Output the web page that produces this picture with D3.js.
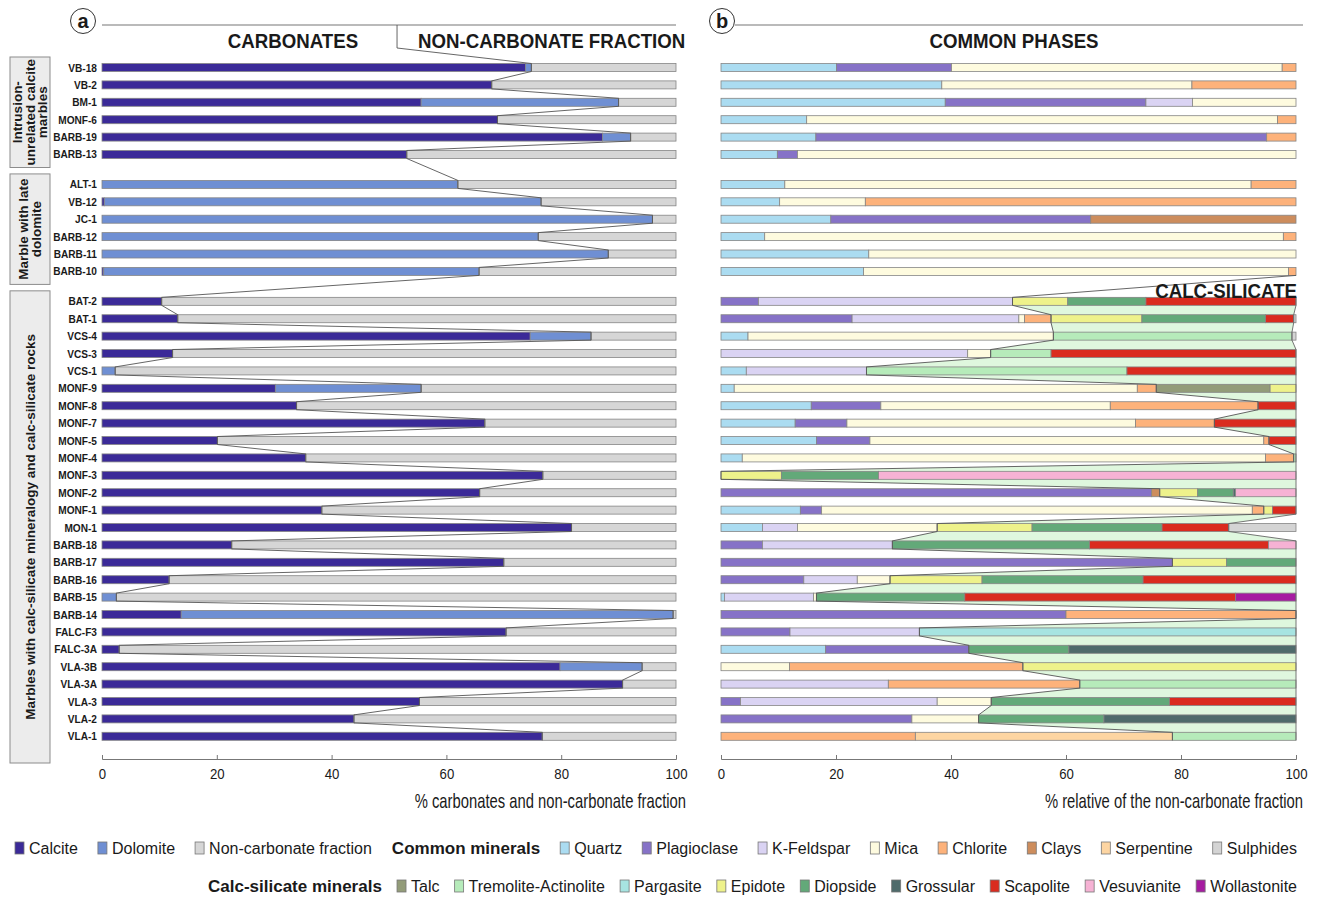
<!DOCTYPE html>
<html lang="en">
<head>
<meta charset="utf-8">
<title>Carbonates and non-carbonate fraction</title>
<script src="https://cdn.jsdelivr.net/npm/d3@7"></script>
<style>
body { margin: 0; background: #fff; }
svg text { font-family: "Liberation Sans Narrow", "Liberation Sans", Arial, sans-serif; fill: #1a1a1a; }
</style>
</head>
<body>
<script>

// samples from top to bottom
var samples = ["VB-18","VB-2","BM-1","MONF-6","BARB-19","BARB-13",
	"ALT-1","VB-12","JC-1","BARB-12","BARB-11","BARB-10",
	"BAT-2","BAT-1","VCS-4","VCS-3","VCS-1","MONF-9","MONF-8","MONF-7","MONF-5","MONF-4","MONF-3","MONF-2","MONF-1",
	"MON-1","BARB-18","BARB-17","BARB-16","BARB-15","BARB-14","FALC-F3","FALC-3A","VLA-3B","VLA-3A","VLA-3","VLA-2","VLA-1"];

var groupNames = [["Intrusion-","unrelated calcite","marbles"], ["Marble with late","dolomite"], ["Marbles with calc-silicate mineralogy and calc-silicate rocks"]];
var groupSizes = [6, 6, 26];

// panel a : % of the rock
var calcite = [73.8,67.9,55.6,68.9,87.2,53.1, 0,0.4,0,0,0,0.3,
	10.4,13.2,74.6,12.3,0,30.2,33.9,66.7,20.1,35.5,76.8,65.8,38.3,
	81.8,22.6,70.0,11.7,0,13.8,70.4,3.0,79.8,90.7,55.3,43.9,76.7];
var dolomite = [1.0,0,34.4,0,4.9,0, 62.0,76.1,95.9,76.0,88.2,65.4,
	0,0,10.6,0,2.3,25.4,0,0,0,0,0,0,0,
	0,0,0,0,2.5,85.7,0,0,14.3,0,0,0,0];

// panel b : % of the non-carbonate fraction
var quartz = [20.1,38.4,39.0,14.9,16.5,9.8, 11.1,10.2,19.1,7.6,25.7,24.8,
	0,0,4.7,0,4.4,2.3,15.7,12.9,16.6,3.7,0,0,13.8,
	7.2,0,0,0,0.6,0,0,18.2,0,0,0,0,0];
var plagioclase = [20.0,0,34.9,0,78.4,3.5, 0,0,45.2,0,0,0,
	6.5,22.8,0,0,0,0,12.1,9.0,9.3,0,0,74.9,3.7,
	0,7.2,78.5,14.4,0,60.0,12.0,24.9,0,0,3.4,33.2,0];
var kfeldspar = [0,0,8.1,0,0,0, 0,0,0,0,0,0,
	44.2,29.0,0,42.9,20.9,0,0,0,0,0,0,0,0,
	6.1,22.6,0,9.3,15.5,0,22.5,0,0,29.1,34.2,0,0];
var mica = [57.5,43.5,18.0,81.9,0,86.7, 81.1,14.9,0,90.2,74.3,73.9,
	0,1.0,53.1,4.0,0,70.1,39.9,50.2,68.5,91.0,0,0,74.9,
	24.3,0,0,5.7,0.5,0,0,0,11.9,0,9.4,11.6,0];
var chlorite = [2.4,18.1,0,3.2,5.1,0, 7.8,74.9,0,2.2,0,1.3,
	0,4.6,0,0,0,3.3,25.7,13.7,0.9,4.9,0,0,2.0,
	0,0,0,0,0,40.0,0,0,40.6,33.3,0,0,33.8];
var clays = [0,0,0,0,0,0, 0,0,35.7,0,0,0,
	0,0,0,0,0,0,0,0,0,0,0,1.4,0,
	0,0,0,0,0,0,0,0,0,0,0,0,0];
var serpentine = [0,0,0,0,0,0, 0,0,0,0,0,0,
	0,0,0,0,0,0,0,0,0,0,0,0,0,
	0,0,0,0,0,0,0,0,0,0,0,0,44.7];
var sulphides = [0,0,0,0,0,0, 0,0,0,0,0,0,
	0,0.4,0.7,0,0,0,0,0,0,0,0,0,0,
	11.7,0,0,0,0,0,0,0,0,0,0,0,0];
var talc = [0,0,0,0,0,0, 0,0,0,0,0,0,
	0,0,0,0,0,19.8,0,0,0,0,0,0,0,
	0,0,0,0,0,0,0,0,0,0,0,0,0];
var tremolite = [0,0,0,0,0,0, 0,0,0,0,0,0,
	0,0,41.5,10.5,45.3,0,0,0,0,0.4,0,0,0,
	0,0,0,0,0,0,0,0,0,37.6,0,0,21.5];
var pargasite = [0,0,0,0,0,0, 0,0,0,0,0,0,
	0,0,0,0,0,0,0,0,0,0,0,0,0,
	0,0,0,0,0,0,65.5,0,0,0,0,0,0];
var epidote = [0,0,0,0,0,0, 0,0,0,0,0,0,
	9.6,15.8,0,0,0,4.5,0,0,0,0,10.5,6.6,1.5,
	16.5,0,9.4,16.0,0,0,0,0,47.5,0,0,0,0];
var diopside = [0,0,0,0,0,0, 0,0,0,0,0,0,
	13.6,21.5,0,0,0,0,0,0,0,0,16.9,6.2,0,
	22.6,34.3,12.1,28.0,25.8,0,0,17.4,0,0,31.0,21.8,0];
var grossular = [0,0,0,0,0,0, 0,0,0,0,0,0,
	0,0,0,0,0,0,0,0,0,0,0,0.4,0,
	0,0,0,0,0,0,0,39.5,0,0,0,33.4,0];
var scapolite = [0,0,0,0,0,0, 0,0,0,0,0,0,
	26.1,4.9,0,42.6,29.4,0,6.6,14.2,4.7,0,0,0,4.1,
	11.6,31.1,0,26.6,47.1,0,0,0,0,0,22.0,0,0];
var vesuvianite = [0,0,0,0,0,0, 0,0,0,0,0,0,
	0,0,0,0,0,0,0,0,0,0,72.6,10.5,0,
	0,4.8,0,0,0,0,0,0,0,0,0,0,0];
var wollastonite = [0,0,0,0,0,0, 0,0,0,0,0,0,
	0,0,0,0,0,0,0,0,0,0,0,0,0,
	0,0,0,0,10.5,0,0,0,0,0,0,0,0];

var ticks = [0, 20, 40, 60, 80, 100];

var carbonates = [
	{key: "Calcite", color: "#3b2a98", values: calcite},
	{key: "Dolomite", color: "#6f8fd3", values: dolomite}
];
var nonCarb = {key: "Non-carbonate fraction", color: "#d6d6d6"};

var common = [
	{key: "Quartz", color: "#abdcf1", values: quartz},
	{key: "Plagioclase", color: "#8672c7", values: plagioclase},
	{key: "K-Feldspar", color: "#dad3f3", values: kfeldspar},
	{key: "Mica", color: "#fefbdf", values: mica},
	{key: "Chlorite", color: "#fdb27b", values: chlorite},
	{key: "Clays", color: "#cd8d5d", values: clays},
	{key: "Serpentine", color: "#fdd5a2", values: serpentine},
	{key: "Sulphides", color: "#d4d4d4", values: sulphides}
];
var calcSil = [
	{key: "Talc", color: "#939c79", values: talc},
	{key: "Tremolite-Actinolite", color: "#b6ebba", values: tremolite},
	{key: "Pargasite", color: "#a7e4e1", values: pargasite},
	{key: "Epidote", color: "#eef28b", values: epidote},
	{key: "Diopside", color: "#63a979", values: diopside},
	{key: "Grossular", color: "#4f6b6b", values: grossular},
	{key: "Scapolite", color: "#da2b1f", values: scapolite},
	{key: "Vesuvianite", color: "#f6b2d4", values: vesuvianite},
	{key: "Wollastonite", color: "#a61ca1", values: wollastonite}
];

// order inside the bars: common phases, calc-silicates, sulphides last
var bOrder = common.slice(0, 7).concat(calcSil).concat([common[7]]);

var svg = d3.select("body").append("svg").attr("width", 1320).attr("height", 897);

var xL = d3.scaleLinear().domain([0, 100]).range([102, 676]);
var xR = d3.scaleLinear().domain([0, 100]).range([721, 1296]);

// row slots, with a gap between the groups
var groupOf = [];
groupSizes.forEach(function(n, g) { for (var k = 0; k < n; k++) groupOf.push(g); });
var gapSlots = 0.72;
var y = d3.scaleLinear().domain([0, samples.length - 1 + gapSlots * 2]).range([67.5, 736.3]);
var barH = 8;
function yc(i) { return y(i + gapSlots * groupOf[i]); }

// narrow text (no condensed font installed, so squeeze it)
function ntext(parent, x, yy, sx) {
	return parent.append("text").attr("transform", "translate(" + x + "," + yy + ") scale(" + sx + ",1)");
}

// tables for d3.stack
var tableA = samples.map(function(s, i) {
	var r = {sample: s};
	carbonates.forEach(function(m) { r[m.key] = m.values[i]; });
	r[nonCarb.key] = 100 - calcite[i] - dolomite[i];
	return r;
});
var tableB = samples.map(function(s, i) {
	var r = {sample: s};
	bOrder.forEach(function(m) { r[m.key] = m.values[i]; });
	return r;
});

var colorOf = {};
carbonates.concat([nonCarb], common, calcSil).forEach(function(m) { colorOf[m.key] = m.color; });

var stackA = d3.stack().keys(carbonates.map(function(m) { return m.key; }).concat([nonCarb.key]))(tableA);
var stackB = d3.stack().keys(bOrder.map(function(m) { return m.key; }))(tableB);

// calc-silicate window in panel b
var firstCalc = 12;
var calcStart = samples.map(function(s, i) { return d3.sum(common.slice(0, 7), function(m) { return m.values[i]; }); });
var calcEnd = samples.map(function(s, i) { return 100 - sulphides[i]; });
var calcRows = d3.range(firstCalc, samples.length);

var line = d3.line();

// green band behind the calc-silicate part
var band = [];
calcRows.forEach(function(i) { band.push([xR(calcStart[i]), yc(i) - barH / 2], [xR(calcStart[i]), yc(i) + barH / 2]); });
calcRows.slice().reverse().forEach(function(i) { band.push([xR(calcEnd[i]), yc(i) + barH / 2], [xR(calcEnd[i]), yc(i) - barH / 2]); });
svg.append("path").attr("d", line(band) + "Z").attr("fill", "#dff7de").attr("stroke", "none");

function drawBars(stack, x) {
	var g = svg.append("g");
	stack.forEach(function(layer) {
		g.selectAll(null).data(layer.filter(function(d) { return d[1] - d[0] > 0; }))
			.enter().append("rect")
			.attr("x", function(d) { return x(d[0]); })
			.attr("width", function(d) { return x(d[1]) - x(d[0]); })
			.attr("y", function(d) { return yc(samples.indexOf(d.data.sample)) - barH / 2; })
			.attr("height", barH)
			.attr("fill", colorOf[layer.key])
			.attr("stroke", "#858585")
			.attr("stroke-width", 0.8);
	});
}
drawBars(stackA, xL);
drawBars(stackB, xR);

// connecting line of the carbonate ends
var carbEnd = samples.map(function(s, i) { return calcite[i] + dolomite[i]; });
var splitA = 51.4;
var ptsA = [[xL(splitA), 48]];
samples.forEach(function(s, i) { ptsA.push([xL(carbEnd[i]), yc(i) - barH / 2], [xL(carbEnd[i]), yc(i) + barH / 2]); });
svg.append("path").attr("d", line(ptsA)).attr("fill", "none").attr("stroke", "#555").attr("stroke-width", 0.9);

// connecting lines of the calc-silicate window
var ptsB = [[xR(calcStart[firstCalc - 1]), yc(firstCalc - 1) + barH / 2]];
calcRows.forEach(function(i) { ptsB.push([xR(calcStart[i]), yc(i) - barH / 2], [xR(calcStart[i]), yc(i) + barH / 2]); });
svg.append("path").attr("d", line(ptsB)).attr("fill", "none").attr("stroke", "#555").attr("stroke-width", 0.9);
var ptsC = [];
calcRows.forEach(function(i) { ptsC.push([xR(calcEnd[i]), yc(i) - barH / 2], [xR(calcEnd[i]), yc(i) + barH / 2]); });
svg.append("path").attr("d", line(ptsC)).attr("fill", "none").attr("stroke", "#666").attr("stroke-width", 0.9);

// sample labels
var lab = svg.append("g");
samples.forEach(function(s, i) {
	ntext(lab, 97, yc(i) + 4, 0.88).attr("text-anchor", "end").attr("font-size", 11.5).attr("font-weight", "bold").text(s);
});

// group boxes
var gStart = 0;
groupSizes.forEach(function(n, g) {
	var top = yc(gStart) - 10.5, bot = yc(gStart + n - 1) + 13;
	if (g == 0) top = 57;
	if (g == 2) bot = 763;
	svg.append("rect").attr("x", 10).attr("y", top).attr("width", 40).attr("height", bot - top)
		.attr("fill", "#ececec").attr("stroke", "#8c8c8c").attr("stroke-width", 1);
	var lines = groupNames[g];
	var t = svg.append("text").attr("transform", "translate(30," + ((top + bot) / 2) + ") rotate(-90)")
		.attr("text-anchor", "middle").attr("font-size", 13.5).attr("font-weight", "bold")
		.style("font-family", "'Liberation Sans', Arial, sans-serif");
	lines.forEach(function(l, k) {
		t.append("tspan").attr("x", 0).attr("y", (k - (lines.length - 1) / 2) * 12.5 + 4.5).text(l);
	});
	gStart += n;
});

// headers
svg.append("line").attr("x1", xL(0)).attr("x2", xL(100)).attr("y1", 25).attr("y2", 25).attr("stroke", "#777").attr("stroke-width", 1.2);
svg.append("line").attr("x1", xL(splitA)).attr("x2", xL(splitA)).attr("y1", 25).attr("y2", 48).attr("stroke", "#555").attr("stroke-width", 0.9);
svg.append("line").attr("x1", 735).attr("x2", 1303).attr("y1", 25).attr("y2", 25).attr("stroke", "#777").attr("stroke-width", 1.2);

function header(txt, x, yy, anchor) {
	ntext(svg, x, yy, 0.89).attr("text-anchor", anchor)
		.attr("font-size", 21).attr("font-weight", "bold").text(txt);
}
header("CARBONATES", 293, 48, "middle");
header("NON-CARBONATE FRACTION", 418, 48, "start");
header("COMMON PHASES", 1014, 48, "middle");
header("CALC-SILICATE", 1297, 298, "end");

[["a", 83], ["b", 722]].forEach(function(p) {
	svg.append("circle").attr("cx", p[1]).attr("cy", 21).attr("r", 12.5).attr("fill", "#fff").attr("stroke", "#333").attr("stroke-width", 1);
	svg.append("text").attr("x", p[1]).attr("y", 28).attr("text-anchor", "middle")
		.attr("font-size", 20).attr("font-weight", "bold").style("font-family", "'Liberation Sans', Arial, sans-serif").text(p[0]);
});

// axes
function axis(x, title, right) {
	var g = svg.append("g").attr("transform", "translate(0,759)")
		.call(d3.axisBottom(x).tickValues(ticks).tickSizeInner(-4).tickSizeOuter(-4).tickPadding(9));
	g.select(".domain").attr("stroke", "#777");
	g.selectAll(".tick line").attr("stroke", "#777");
	g.selectAll(".tick text").attr("font-size", 15).attr("fill", "#222")
		.style("font-family", "'Liberation Sans', Arial, sans-serif")
		.attr("transform", "scale(0.88,1)");
	ntext(svg, right, 808, 0.74).attr("text-anchor", "end").attr("font-size", 20).text(title);
}
axis(xL, "% carbonates and non-carbonate fraction", 686);
axis(xR, "% relative of the non-carbonate fraction", 1303);

// legend, spread between a start and the right edge
function legendRow(items, x0, x1, yy) {
	var g = svg.append("g");
	var widths = items.map(function(it) {
		var t = g.append("text").attr("font-size", it.bold ? 17 : 16).attr("font-weight", it.bold ? "bold" : "normal").text(it.key);
		var w = t.node().getComputedTextLength();
		t.remove();
		return (it.bold ? 0 : 14) + w;
	});
	var gap = (x1 - x0 - d3.sum(widths)) / (items.length - 1);
	var x = x0;
	items.forEach(function(it, k) {
		if (!it.bold) {
			g.append("rect").attr("x", x).attr("y", yy - 6).attr("width", 9).attr("height", 12)
				.attr("fill", it.color).attr("stroke", "#777").attr("stroke-width", 0.8);
		}
		g.append("text").attr("x", x + (it.bold ? 0 : 14)).attr("y", yy + 5.5)
			.attr("font-size", it.bold ? 17 : 16).attr("font-weight", it.bold ? "bold" : "normal").text(it.key);
		x += widths[k] + gap;
	});
}
legendRow(carbonates.concat([nonCarb], [{key: "Common minerals", bold: true}], common), 15, 1297, 848);
legendRow([{key: "Calc-silicate minerals", bold: true}].concat(calcSil), 208, 1297, 886);

</script>
</body>
</html>
